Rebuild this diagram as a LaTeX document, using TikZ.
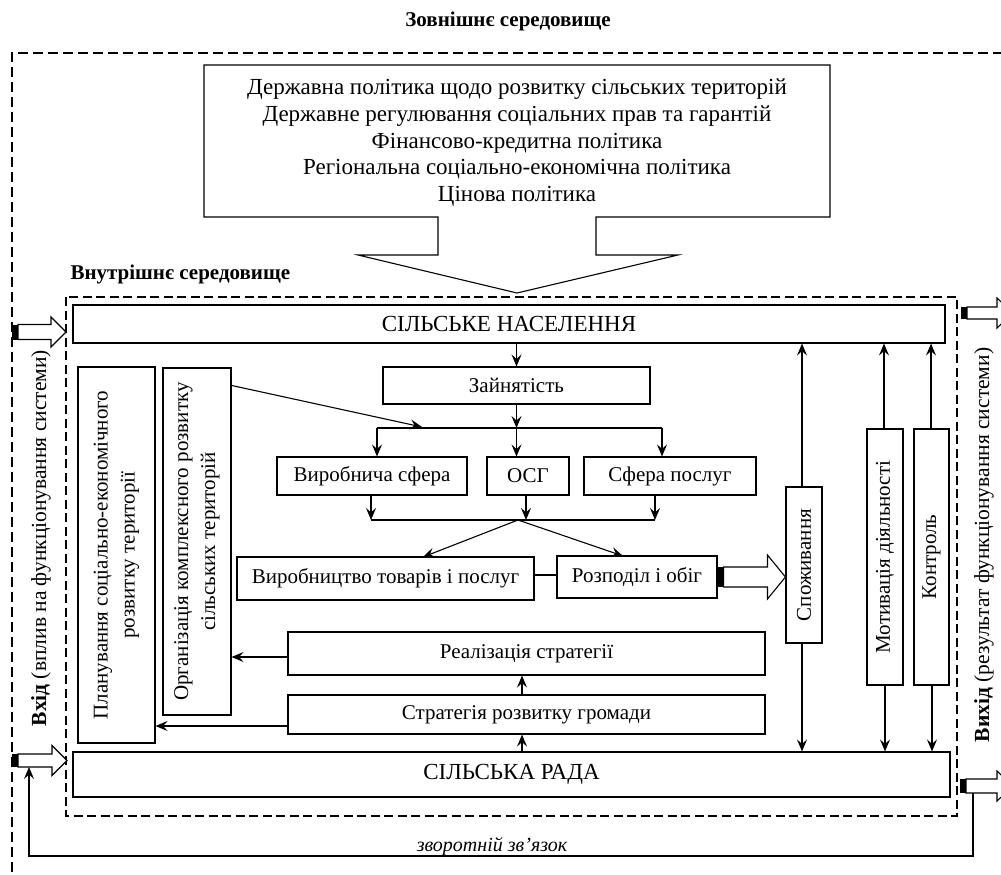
\documentclass[tikz,border=0pt]{standalone}
\usepackage{fontspec}
\setmainfont{Liberation Serif}
\usetikzlibrary{arrows.meta,calc}
\newcommand\fatarrow[5]{%
  \fill let \p1=(#1) in (\x1,\y1-#3) rectangle (\x1+6pt,\y1+#3);
  \draw[fatline] let \p1=(#1),\p2=(#2) in (\x1+6pt,\y1-#3) -- (\x2-#5,\y1-#3) -- (\x2-#5,\y1-#4) -- (\x2,\y1) -- (\x2-#5,\y1+#4) -- (\x2-#5,\y1+#3) -- (\x1+6pt,\y1+#3) -- cycle;}
\begin{document}
\begin{tikzpicture}[x=1pt,y=-1pt,
  box/.style={draw, line width=1.1pt, inner sep=0pt, font=\fontsize{21}{25}\selectfont},
  vtxt/.style={rotate=90, align=center, font=\fontsize{21}{27}\selectfont},
  big/.style={font=\fontsize{23}{27}\selectfont},
  gov/.style={anchor=base, font=\fontsize{23}{27}\selectfont},
  head/.style={font=\bfseries\fontsize{21}{24}\selectfont},
  arr/.style={line width=1.1pt, -{Stealth[length=12pt,width=10pt,inset=4.5pt]}},
  ln/.style={line width=1.1pt},
  dsh/.style={line width=1.1pt, dash pattern=on 10pt off 5pt},
  fatline/.style={line width=1.1pt, fill=white}]
\useasboundingbox (0,0) rectangle (1001,875);
\clip (0,0) rectangle (1001,875);

% headings
\node[head, anchor=base] (ext) at (508,27) {Зовнішнє середовище};
\node[head, anchor=base west] (int) at (67,279) {Внутрішнє середовище};

% outer and inner environment borders
\draw[dsh] (12,872) -- (12,53) -- (1001,53);
\draw[dsh, dash pattern=on 9pt off 4.5pt] (66,297) rectangle (957,816);

% government policy callout
\draw[ln] (204,65) -- (830,65) -- (830,217) -- (596,217) -- (596,255) -- (678,255) -- (517,293)
  -- (358,255) -- (438,255) -- (438,217) -- (204,217) -- cycle;
\node[gov] (g1) at (517,95) {Державна політика щодо розвитку сільських територій};
\node[gov] (g2) at (517,121.5) {Державне регулювання соціальних прав та гарантій};
\node[gov] (g3) at (517,148) {Фінансово-кредитна політика};
\node[gov] (g4) at (517,174.5) {Регіональна соціально-економічна політика};
\node[gov] (g5) at (517,201) {Цінова політика};

% main bars
\node[box, big, minimum width=872pt, minimum height=38pt] (nas) at (509,324) {СІЛЬСЬКЕ НАСЕЛЕННЯ};
\node[box, big, minimum width=877pt, minimum height=45pt] (rada) at (511.5,774.5) {СІЛЬСЬКА РАДА};

% left vertical boxes
\node[box, minimum width=77pt, minimum height=376pt] (plan) at (116.5,555) {};
\node[vtxt] (plant) at (plan) {Планування соціально-економічного\\розвитку території};
\node[box, minimum width=68pt, minimum height=347pt] (org) at (197,541.5) {};
\node[vtxt] (orgt) at (org) {Організація комплексного розвитку\\сільських територій};

% central boxes
\node[box, minimum width=267pt, minimum height=37pt] (zayn) at (516.5,385.5) {Зайнятість};
\node[box, minimum width=190pt, minimum height=38pt] (vyr) at (372,476) {Виробнича сфера};
\node[box, minimum width=82pt, minimum height=38pt] (osg) at (528,476) {ОСГ};
\node[box, minimum width=172pt, minimum height=38pt] (sfe) at (670,476) {Сфера послуг};
\node[box, minimum width=297pt, minimum height=43pt] (vtp) at (385.5,578.5) {Виробництво товарів і послуг};
\node[box, minimum width=160pt, minimum height=42pt] (rozp) at (637,577) {Розподіл і обіг};
\node[box, minimum width=477pt, minimum height=43pt] (real) at (526.5,653.5) {Реалізація стратегії};
\node[box, minimum width=477pt, minimum height=39pt] (strat) at (526.5,714.5) {Стратегія розвитку громади};

% right vertical boxes
\node[box, minimum width=36pt, minimum height=156pt] (spo) at (804,565) {};
\node[vtxt] (spot) at (spo) {Споживання};
\node[box, minimum width=36pt, minimum height=256pt] (mot) at (885,557) {};
\node[vtxt] (mott) at (mot) {Мотивація діяльності};
\node[box, minimum width=35pt, minimum height=256pt] (kon) at (931.5,557) {};
\node[vtxt] (kont) at (kon) {Контроль};

% side labels
\node[rotate=90, font=\fontsize{21.5}{25}\selectfont] (vhid) at (41,538) {\textbf{Вхід} (вплив на функціонування системи)};
\node[rotate=90, font=\fontsize{21.5}{25}\selectfont] (vyhid) at (984,545) {\textbf{Вихід} (результат функціонування системи)};

% flow connectors
\coordinate (h1) at (516.5,428);
\coordinate (hl) at (377,428);
\coordinate (hr) at (662,428);
\draw[arr] (nas.south -| zayn) -- (zayn.north);
\draw[arr] (zayn.south) -- (h1);
\draw[ln] (hl) -- (hr);
\draw[arr] (hl) -- (hl |- vyr.north);
\draw[arr] (h1) -- (h1 |- osg.north);
\draw[arr] (hr) -- (hr |- sfe.north);
\coordinate (orgtip) at (422,427);
\draw[arr] ($(org.north east)+(0,18)$) -- (orgtip);

\coordinate (h2) at (518,520);
\coordinate (h2l) at (371,520);
\coordinate (h2r) at (655,520);
\draw[arr] (h2l |- vyr.south) -- (h2l);
\draw[arr] (osg.south -| 526,0) -- (526,520);
\draw[arr] (h2r |- sfe.south) -- (h2r);
\draw[ln] (h2l) -- (h2r);
\draw[arr] (h2) -- (423,557);
\draw[arr] (h2) -- (623,556);
\draw[ln] (vtp.east |- 0,575) -- (rozp.west |- 0,575);

\fatarrow{rozp.east}{spo.west}{10pt}{22pt}{18pt}

\draw[arr] (real.west |- 0,657) -- (org.east |- 0,657);
\draw[arr] (strat.west |- 0,726) -- (plan.east |- 0,726);
\draw[arr] (strat.north -| 522,0) -- (real.south -| 522,0);
\draw[arr] (rada.north -| 522,0) -- (strat.south -| 522,0);

\draw[arr] (spo.north -| 802,0) -- (nas.south -| 802,0);
\draw[arr] (spo.south -| 802,0) -- (rada.north -| 802,0);
\draw[arr] (mot.north -| 884,0) -- (nas.south -| 884,0);
\draw[arr] (mot.south -| 885,0) -- (rada.north -| 885,0);
\draw[arr] (kon.north -| 931,0) -- (nas.south -| 931,0);
\draw[arr] (kon.south -| 932,0) -- (rada.north -| 932,0);

% input / output arrows
\coordinate (in1) at (12,332);  \coordinate (in1t) at (66,332);
\coordinate (in2) at (12,760.5);  \coordinate (in2t) at (67,760.5);
\coordinate (out1) at (961,313); \coordinate (out1t) at (1013,313);
\coordinate (out2) at (960,786); \coordinate (out2t) at (1013,786);
\fatarrow{in1}{in1t}{7.5pt}{15pt}{15pt}
\fatarrow{in2}{in2t}{6.5pt}{15pt}{15pt}
\fatarrow{out1}{out1t}{6pt}{15pt}{16pt}
\fatarrow{out2}{out2t}{7pt}{15pt}{16pt}

% feedback
\coordinate (fb1) at (973,793);
\coordinate (fb2) at (973,856);
\coordinate (fb3) at (29,856);
\coordinate (fb4) at (29,767);
\draw[arr] (fb1) -- (fb2) -- (fb3) -- (fb4);
\node[anchor=base, font=\itshape\fontsize{20}{24}\selectfont] (fbl) at (492,851) {зворотній зв’язок};
\end{tikzpicture}
\end{document}
